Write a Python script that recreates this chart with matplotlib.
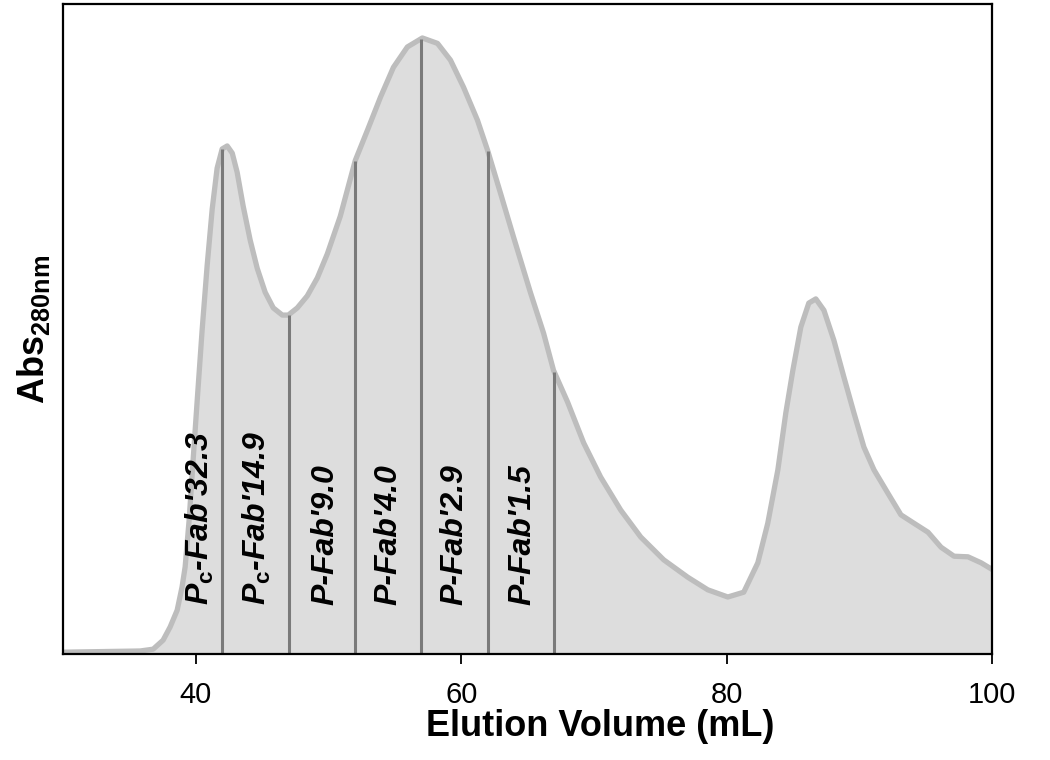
import numpy as np
import matplotlib
matplotlib.use("Agg")
import matplotlib.pyplot as plt

plt.rcParams['font.family'] = ['Liberation Sans', 'DejaVu Sans']
plt.rcParams['mathtext.fontset'] = 'custom'
plt.rcParams['mathtext.rm'] = 'Liberation Sans:bold'
plt.rcParams['mathtext.it'] = 'Liberation Sans:italic:bold'

# chromatogram trace (elution volume mL, absorbance a.u.)
vol = [30.00, 35.81, 36.79, 37.54, 38.07, 38.60, 38.97, 39.20, 39.50, 39.80,
       40.11, 40.48, 40.86, 41.24, 41.61, 41.99, 42.37, 42.75, 43.12, 43.57,
       44.10, 44.63, 45.23, 45.84, 46.52, 46.97, 47.65, 48.40, 49.16, 49.91,
       50.89, 52.02, 52.93, 53.91, 54.89, 55.94, 57.07, 58.21, 59.19, 60.17,
       61.22, 61.98, 62.96, 63.94, 65.22, 66.20, 66.95, 68.01, 69.22, 70.50,
       72.01, 73.52, 75.25, 77.06, 78.57, 80.08, 81.28, 82.34, 83.09, 83.85,
       84.45, 84.98, 85.58, 86.18, 86.71, 87.32, 88.07, 88.82, 89.58, 90.33,
       91.09, 92.14, 93.12, 94.10, 95.16, 96.14, 97.12, 98.17, 99.16, 100.06,
       100.66]
absorb = [0.003, 0.005, 0.008, 0.023, 0.045, 0.073, 0.112, 0.145, 0.223, 0.323,
          0.423, 0.540, 0.648, 0.742, 0.810, 0.842, 0.847, 0.835, 0.803, 0.747,
          0.690, 0.643, 0.603, 0.577, 0.565, 0.565, 0.577, 0.597, 0.627, 0.667,
          0.730, 0.823, 0.873, 0.928, 0.978, 1.012, 1.027, 1.018, 0.990, 0.945,
          0.890, 0.840, 0.768, 0.695, 0.602, 0.535, 0.473, 0.420, 0.352, 0.295,
          0.240, 0.195, 0.157, 0.128, 0.107, 0.095, 0.103, 0.152, 0.218, 0.307,
          0.402, 0.473, 0.545, 0.585, 0.592, 0.573, 0.523, 0.462, 0.402, 0.345,
          0.307, 0.268, 0.232, 0.218, 0.203, 0.178, 0.163, 0.162, 0.152, 0.140,
          0.133]

# fraction cut points and labels
cuts = [42, 47, 52, 57, 62, 67]
label_pos = [40.3, 44.6, 49.8, 54.5, 59.5, 64.6]
fractions = [r"$P_{\mathrm{c}}$-Fab'32.3", r"$P_{\mathrm{c}}$-Fab'14.9", "P-Fab'9.0",
             "P-Fab'4.0", "P-Fab'2.9", "P-Fab'1.5"]

fig = plt.figure(figsize=(10.5, 7.6), dpi=100)
ax = fig.add_axes([0.06, 0.1395, 0.885, 0.855])

ax.fill_between(vol, absorb, 0, color='#dddddd', lw=0)
ax.plot(vol, absorb, color='#bdbdbd', lw=3.8, solid_joinstyle='round',
        solid_capstyle='round')

tops = np.interp(cuts, vol, absorb)
ax.vlines(cuts, 0, tops, color='#7a7a7a', lw=2.2)

for xp, txt in zip(label_pos, fractions):
    ax.text(xp, 0.082, txt, rotation=90, ha='center', va='bottom',
            fontsize=23, fontweight='bold', fontstyle='italic')

ax.set_xlim(30, 100)
ax.set_ylim(0, 650 / 600)
ax.set_yticks([])
ax.set_xticks([40, 60, 80, 100])
ax.tick_params(axis='x', direction='out', length=7.5, width=1.3, labelsize=21, pad=12)
for s in ax.spines.values():
    s.set_linewidth(1.6)

ax.set_xlabel('Elution Volume (mL)', fontsize=26, fontweight='bold')
ax.xaxis.set_label_coords(0.578, -0.085)
ax.set_ylabel(r'Abs$_{\mathrm{280nm}}$', fontsize=26, fontweight='bold', labelpad=8)

fig.savefig('out.png', dpi=100)
